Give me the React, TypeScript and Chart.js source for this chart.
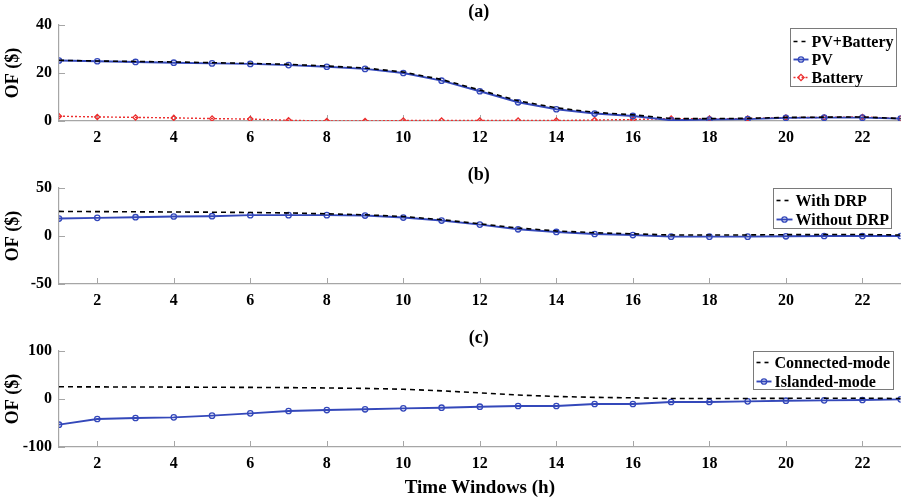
import React, { useEffect, useRef } from "react";
import { Chart, registerables } from "chart.js";

Chart.register(...registerables);

// ---------------- data ----------------
const hours = [1, 2, 3, 4, 5, 6, 7, 8, 9, 10, 11, 12, 13, 14, 15, 16, 17, 18, 19, 20, 21, 22, 23];
const xTickValues = [2, 4, 6, 8, 10, 12, 14, 16, 18, 20, 22];

// (a)
const pvBattery = [25.3, 25.0, 24.8, 24.6, 24.3, 24.0, 23.6, 22.9, 22.1, 20.4, 17.3, 12.9, 8.4, 5.5, 3.6, 2.6, 1.0, 1.0, 1.1, 1.5, 1.6, 1.7, 1.0];
const pv = [25.2, 24.9, 24.6, 24.3, 24.0, 23.8, 23.3, 22.6, 21.7, 20.0, 16.8, 12.4, 7.8, 4.9, 3.1, 2.1, 0.3, 0.6, 0.8, 1.3, 1.4, 1.4, 1.0];
const battery = [2.0, 1.7, 1.5, 1.3, 1.0, 0.8, 0.3, 0.0, 0.0, 0.2, 0.2, 0.2, 0.2, 0.2, 0.4, 0.6, 1.0, 1.0, 1.0, 1.4, 1.5, 1.7, 1.0];
const yTicksA = [0, 20, 40];

// (b)
const withDRP = [25.6, 25.4, 25.2, 25.0, 24.8, 24.5, 24.0, 23.1, 22.1, 20.3, 17.0, 12.7, 8.3, 5.3, 3.4, 2.3, 1.0, 1.0, 1.1, 1.4, 1.5, 1.6, 1.0];
const withoutDRP = [18.2, 18.9, 19.6, 20.3, 20.6, 21.7, 21.7, 21.7, 21.3, 19.2, 16.1, 11.9, 7.0, 4.2, 2.1, 1.0, -0.7, -0.7, -0.7, -0.3, 0.0, 0.0, 0.0];
const yTicksB = [-50, 0, 50];

// (c)
const connectedMode = [25.5, 25.2, 25.0, 24.8, 24.5, 24.2, 23.7, 23.0, 22.1, 20.3, 17.0, 12.7, 8.3, 5.3, 3.4, 2.4, 1.0, 1.0, 1.1, 1.4, 1.5, 1.6, 1.0];
const islandedMode = [-53.5, -41.7, -39.6, -38.2, -34.7, -29.9, -25.0, -23.0, -21.5, -19.5, -18.1, -16.0, -14.6, -14.6, -10.4, -10.4, -6.3, -6.3, -4.9, -3.5, -2.8, -2.1, -0.7];
const yTicksC = [-100, 0, 100];

// ---------------- styles ----------------
const FONT = '"Liberation Serif", "Times New Roman", serif';
const AXIS_COLOR = "#a6a6a6";
const BLUE = "rgb(52, 72, 186)";
const RED = "rgb(236, 48, 48)";
const BLACK = "#000000";

function toXY(values: number[]) {
  return values.map((v, i) => ({ x: hours[i], y: v }));
}

function dashedSeries(label: string, values: number[]) {
  return {
    label,
    data: toXY(values),
    borderColor: BLACK,
    borderWidth: 1.6,
    borderDash: [5, 4],
    pointRadius: 0,
    pointHoverRadius: 0,
    fill: false,
    tension: 0,
  };
}

function markerSeries(label: string, values: number[], color: string, style: string, dash: number[] = []) {
  return {
    label,
    data: toXY(values),
    borderColor: color,
    borderWidth: dash.length ? 1.4 : 1.9,
    borderDash: dash,
    pointRadius: style === "rectRot" ? 2.6 : 2.7,
    pointBorderWidth: 1.3,
    pointStyle: style,
    pointBorderColor: color,
    pointBackgroundColor: "rgba(255,255,255,0)",
    fill: false,
    tension: 0,
  };
}

const decorPlugin = {
  id: "decor",
  beforeDatasetsDraw(chart: any) {
    const { ctx, chartArea } = chart;
    const xs = chart.scales.x;
    const ys = chart.scales.y;
    ctx.save();
    ctx.strokeStyle = AXIS_COLOR;
    ctx.lineWidth = 1;
    for (const t of xs.ticks) {
      const px = Math.round(xs.getPixelForValue(t.value)) + 0.5;
      ctx.beginPath();
      ctx.moveTo(px, chartArea.bottom);
      ctx.lineTo(px, chartArea.bottom - 6);
      ctx.stroke();
    }
    for (const t of ys.ticks) {
      const py = Math.round(ys.getPixelForValue(t.value)) + 0.5;
      ctx.beginPath();
      ctx.moveTo(chartArea.left, py);
      ctx.lineTo(chartArea.left + 6, py);
      ctx.stroke();
    }
    ctx.restore();
  },
  afterDraw(chart: any, _args: any, opts: any) {
    const { ctx, chartArea } = chart;
    ctx.save();
    // subplot label
    ctx.fillStyle = "#000";
    ctx.font = `bold 18px ${FONT}`;
    ctx.textAlign = "center";
    ctx.textBaseline = "middle";
    ctx.fillText(opts.label, (chartArea.left + chartArea.right) / 2 - 1, chartArea.top - 13);

    // legend
    const lg = opts.legend;
    ctx.font = `bold 16px ${FONT}`;
    let maxW = 0;
    for (const e of lg.entries) maxW = Math.max(maxW, ctx.measureText(e.text).width);
    const w = lg.textOffset + maxW + 3;
    const h = lg.firstRow + lg.rowGap * (lg.entries.length - 1) + lg.bottomPad;
    const bx = Math.round(lg.right - w) + 0.5;
    const by = Math.round(chartArea.top + lg.topOffset) + 0.5;
    ctx.fillStyle = "#ffffff";
    ctx.fillRect(bx, by, Math.round(w), h);
    ctx.strokeStyle = "#7a7a7a";
    ctx.lineWidth = 1;
    ctx.strokeRect(bx, by, Math.round(w), h);

    lg.entries.forEach((e: any, i: number) => {
      const ds = chart.data.datasets[e.dataset];
      const y = by + lg.firstRow + i * lg.rowGap;
      const x0 = bx + 3;
      const x1 = bx + lg.textOffset - 3;
      ctx.save();
      ctx.strokeStyle = ds.borderColor;
      ctx.lineWidth = ds.borderWidth;
      ctx.setLineDash(ds.borderDash && ds.borderDash.length ? (ds.pointRadius ? ds.borderDash : [4, 4]) : []);
      ctx.beginPath();
      ctx.moveTo(x0, y);
      ctx.lineTo(x1, y);
      ctx.stroke();
      ctx.setLineDash([]);
      if (ds.pointRadius) {
        const mx = (x0 + x1) / 2;
        const r = ds.pointRadius;
        ctx.lineWidth = ds.pointBorderWidth;
        ctx.beginPath();
        if (ds.pointStyle === "rectRot") {
          ctx.moveTo(mx, y - r * 1.2);
          ctx.lineTo(mx + r * 1.2, y);
          ctx.lineTo(mx, y + r * 1.2);
          ctx.lineTo(mx - r * 1.2, y);
          ctx.closePath();
        } else {
          ctx.arc(mx, y, r, 0, Math.PI * 2);
        }
        ctx.stroke();
      }
      ctx.restore();
      ctx.fillStyle = "#000";
      ctx.textAlign = "left";
      ctx.textBaseline = "middle";
      ctx.fillText(e.text, bx + lg.textOffset, y + 1);
    });
    ctx.restore();
  },
};

type PanelProps = {
  top: number;
  height: number;
  xAxisHeight: number;
  datasets: any[];
  yMin: number;
  yMax: number;
  yTicks: number[];
  label: string;
  legend: any;
  xTitle?: string;
};

function Panel(p: PanelProps) {
  const ref = useRef<HTMLCanvasElement | null>(null);
  useEffect(() => {
    if (!ref.current) return;
    const chart = new Chart(ref.current, {
      type: "line",
      data: { datasets: p.datasets },
      plugins: [decorPlugin as any],
      options: {
        animation: false,
        responsive: false,
        devicePixelRatio: 1,
        layout: { padding: { top: 25, right: 3, left: 0, bottom: 0 } },
        plugins: {
          legend: { display: false },
          tooltip: { enabled: false },
          decor: { label: p.label, legend: p.legend },
        } as any,
        scales: {
          x: {
            type: "linear",
            min: 1,
            max: 23,
            grid: { display: false, drawTicks: false },
            border: { display: true, color: AXIS_COLOR, width: 1.2 },
            afterBuildTicks: (scale: any) => {
              scale.ticks = xTickValues.map((v) => ({ value: v }));
            },
            afterFit: (scale: any) => {
              scale.height = p.xAxisHeight;
            },
            ticks: {
              color: "#000",
              font: { family: FONT, size: 16, weight: "bold" },
              padding: 7,
              maxRotation: 0,
              autoSkip: false,
              callback: (v: any) => String(v),
            },
            title: {
              display: !!p.xTitle,
              text: p.xTitle || "",
              color: "#000",
              font: { family: FONT, size: 19, weight: "bold" },
              padding: { top: 0, bottom: 2 },
            },
          },
          y: {
            type: "linear",
            min: p.yMin,
            max: p.yMax,
            grid: { display: false, drawTicks: false },
            border: { display: true, color: AXIS_COLOR, width: 1.2 },
            afterBuildTicks: (scale: any) => {
              scale.ticks = p.yTicks.map((v) => ({ value: v }));
            },
            afterFit: (scale: any) => {
              scale.width = 59;
            },
            ticks: {
              color: "#000",
              font: { family: FONT, size: 16, weight: "bold" },
              padding: 7,
              autoSkip: false,
              callback: (v: any) => String(v),
            },
            title: {
              display: true,
              text: "OF ($)",
              color: "#000",
              font: { family: FONT, size: 18, weight: "bold" },
              padding: { top: 3, bottom: 0 },
            },
          },
        },
      } as any,
    });
    return () => chart.destroy();
  }, []);
  return (
    <canvas
      ref={ref}
      width={906}
      height={p.height}
      style={{ position: "absolute", left: 0, top: p.top, width: 906, height: p.height }}
    />
  );
}

export default function App() {
  const dsA = [
    dashedSeries("PV+Battery", pvBattery),
    markerSeries("PV", pv, BLUE, "circle"),
    markerSeries("Battery", battery, RED, "rectRot", [2, 2]),
  ];
  const dsB = [dashedSeries("With DRP", withDRP), markerSeries("Without DRP", withoutDRP, BLUE, "circle")];
  const dsC = [dashedSeries("Connected-mode", connectedMode), markerSeries("Islanded-mode", islandedMode, BLUE, "circle")];

  return (
    <div style={{ position: "fixed", left: 0, top: 0, width: 906, height: 501, background: "#fff" }}>
      <Panel
        top={0}
        height={145}
        xAxisHeight={24}
        datasets={dsA}
        yMin={0}
        yMax={40}
        yTicks={yTicksA}
        label="(a)"
        legend={{
          right: 896,
          topOffset: 3,
          textOffset: 21,
          firstRow: 13,
          rowGap: 18,
          bottomPad: 9,
          entries: [
            { text: "PV+Battery", dataset: 0 },
            { text: "PV", dataset: 1 },
            { text: "Battery", dataset: 2 },
          ],
        }}
      />
      <Panel
        top={163}
        height={145}
        xAxisHeight={24}
        datasets={dsB}
        yMin={-50}
        yMax={50}
        yTicks={yTicksB}
        label="(b)"
        legend={{
          right: 891,
          topOffset: 0,
          textOffset: 22,
          firstRow: 12,
          rowGap: 19,
          bottomPad: 9,
          entries: [
            { text: "With DRP", dataset: 0 },
            { text: "Without DRP", dataset: 1 },
          ],
        }}
      />
      <Panel
        top={326}
        height={175}
        xAxisHeight={54}
        datasets={dsC}
        yMin={-100}
        yMax={100}
        yTicks={yTicksC}
        label="(c)"
        xTitle="Time Windows (h)"
        legend={{
          right: 893,
          topOffset: 0,
          textOffset: 21,
          firstRow: 11,
          rowGap: 19,
          bottomPad: 8,
          entries: [
            { text: "Connected-mode", dataset: 0 },
            { text: "Islanded-mode", dataset: 1 },
          ],
        }}
      />
    </div>
  );
}
